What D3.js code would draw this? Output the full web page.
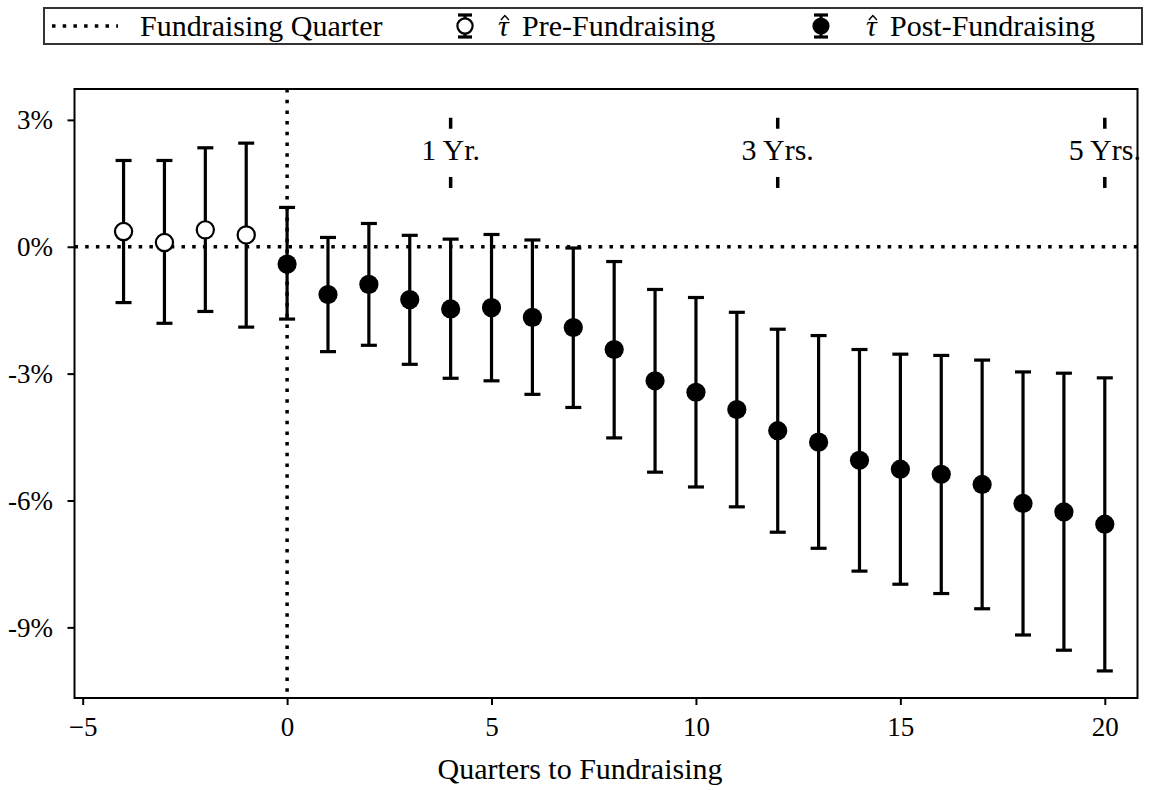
<!DOCTYPE html>
<html>
<head>
<meta charset="utf-8">
<script src="https://cdn.jsdelivr.net/npm/d3@7"></script>
<style>
  body { margin: 0; background: #fff; }
  svg { display: block; }
  text { font-family: "Liberation Serif", "DejaVu Serif", serif; fill: #000; }
</style>
</head>
<body>
<svg id="chart" width="1153" height="790"></svg>
<script>
// Event-study estimates (percent) by quarter relative to fundraising
const quarters = [-4, -3, -2, -1, 0, 1, 2, 3, 4, 5, 6, 7, 8, 9, 10, 11, 12, 13, 14, 15, 16, 17, 18, 19, 20];
const estimate = [0.36, 0.10, 0.40, 0.28, -0.41, -1.13, -0.89, -1.25, -1.47, -1.44, -1.67, -1.91, -2.43,
                  -3.17, -3.44, -3.85, -4.35, -4.62, -5.05, -5.26, -5.38, -5.62, -6.07, -6.27, -6.56];
const ciLower = [-1.32, -1.81, -1.53, -1.90, -1.71, -2.48, -2.33, -2.78, -3.11, -3.17, -3.49, -3.80, -4.52,
                 -5.33, -5.68, -6.15, -6.75, -7.13, -7.67, -7.98, -8.20, -8.56, -9.18, -9.54, -10.03];
const ciUpper = [2.04, 2.04, 2.34, 2.45, 0.93, 0.22, 0.55, 0.27, 0.18, 0.29, 0.16, -0.03, -0.35,
                 -1.01, -1.20, -1.55, -1.95, -2.10, -2.43, -2.54, -2.57, -2.68, -2.96, -2.99, -3.10];

const xTicks = [-5, 0, 5, 10, 15, 20];
const xTickLabels = ["\u22125", "0", "5", "10", "15", "20"];
const yTicks = [3, 0, -3, -6, -9];
const yTickLabels = ["3%", "0%", "-3%", "-6%", "-9%"];

const horizonQuarters = [4, 12, 20];
const horizonLabels = ["1 Yr.", "3 Yrs.", "5 Yrs."];

const legendLabels = ["Fundraising Quarter", "Pre-Fundraising", "Post-Fundraising"];

const rows = quarters.map((q, i) => ({ q, est: estimate[i], lo: ciLower[i], hi: ciUpper[i], pre: q < 0 }));

const svg = d3.select("#chart");
const FONT = 30;      // words
const NUM_FONT = 27;  // numeric tick labels

const x = d3.scaleLinear().domain([-5.2, 20.8]).range([74.5, 1137.5]);
const y = d3.scaleLinear().domain([-10.67, 3.73]).range([698, 89]);
const [x0, x1] = x.range();
const [yb, yt] = y.range();

const dotted = { stroke: "#000", "stroke-width": 3.5, "stroke-dasharray": "3.5,7.2" };
function applyAttrs(sel, attrs) { Object.entries(attrs).forEach(([k, v]) => sel.attr(k, v)); return sel; }

// reference lines at zero effect and at the fundraising quarter
applyAttrs(svg.append("line").attr("x1", x0).attr("x2", x1).attr("y1", y(0)).attr("y2", y(0)), dotted);
applyAttrs(svg.append("line").attr("x1", x(0)).attr("x2", x(0)).attr("y1", yt).attr("y2", yb), dotted);

// horizon markers: short dashes above and below a label
const hz = svg.append("g").selectAll("g").data(horizonQuarters).join("g");
hz.append("line").attr("x1", d => x(d)).attr("x2", d => x(d))
  .attr("y1", y(3.05)).attr("y2", y(2.79)).attr("stroke", "#000").attr("stroke-width", 3.5);
hz.append("line").attr("x1", d => x(d)).attr("x2", d => x(d))
  .attr("y1", y(1.65)).attr("y2", y(1.39)).attr("stroke", "#000").attr("stroke-width", 3.5);
hz.append("text").attr("x", d => x(d)).attr("y", y(2.05))
  .attr("text-anchor", "middle").attr("font-size", FONT)
  .text((d, i) => horizonLabels[i]);

// error bars with point estimates
const eb = svg.append("g").selectAll("g").data(rows).join("g");
eb.append("line").attr("x1", d => x(d.q)).attr("x2", d => x(d.q))
  .attr("y1", d => y(d.lo)).attr("y2", d => y(d.hi))
  .attr("stroke", "#000").attr("stroke-width", 3.2);
eb.append("line").attr("x1", d => x(d.q) - 8).attr("x2", d => x(d.q) + 8)
  .attr("y1", d => y(d.hi)).attr("y2", d => y(d.hi))
  .attr("stroke", "#000").attr("stroke-width", 3.2);
eb.append("line").attr("x1", d => x(d.q) - 8).attr("x2", d => x(d.q) + 8)
  .attr("y1", d => y(d.lo)).attr("y2", d => y(d.lo))
  .attr("stroke", "#000").attr("stroke-width", 3.2);
eb.append("circle").attr("cx", d => x(d.q)).attr("cy", d => y(d.est))
  .attr("r", d => d.pre ? 8.6 : 9.6)
  .attr("fill", d => d.pre ? "#fff" : "#000")
  .attr("stroke", "#000").attr("stroke-width", d => d.pre ? 2.2 : 0);

// frame
svg.append("rect").attr("x", x0).attr("y", yt).attr("width", x1 - x0).attr("height", yb - yt)
  .attr("fill", "none").attr("stroke", "#000").attr("stroke-width", 2);

// axes
const xAxis = svg.append("g").attr("transform", `translate(0,${yb})`)
  .call(d3.axisBottom(x).tickValues(xTicks).tickFormat((d, i) => xTickLabels[i]).tickSize(7).tickPadding(12));
const yAxis = svg.append("g").attr("transform", `translate(${x0},0)`)
  .call(d3.axisLeft(y).tickValues(yTicks).tickFormat((d, i) => yTickLabels[i]).tickSize(7).tickPadding(14.5));
[xAxis, yAxis].forEach(a => {
  a.select(".domain").remove();
  a.selectAll(".tick line").attr("stroke", "#000").attr("stroke-width", 2);
  a.selectAll(".tick text").attr("font-size", NUM_FONT).attr("font-family", null).attr("fill", "#000");
});

svg.append("text").attr("x", 580).attr("y", 779).attr("text-anchor", "middle")
  .attr("font-size", FONT).text("Quarters to Fundraising");

// legend
const lg = svg.append("g");
lg.append("rect").attr("x", 44).attr("y", 8).attr("width", 1098).attr("height", 36)
  .attr("fill", "#fff").attr("stroke", "#333").attr("stroke-width", 2);
applyAttrs(lg.append("line").attr("x1", 52).attr("x2", 118).attr("y1", 26).attr("y2", 26), dotted);
lg.append("text").attr("x", 140).attr("y", 36).attr("font-size", FONT).text(legendLabels[0]);

function legendMarker(cx, pre) {
  const g = lg.append("g");
  g.append("line").attr("x1", cx).attr("x2", cx).attr("y1", 15).attr("y2", 37).attr("stroke", "#000").attr("stroke-width", 3.2);
  g.append("line").attr("x1", cx - 7).attr("x2", cx + 7).attr("y1", 15).attr("y2", 15).attr("stroke", "#000").attr("stroke-width", 3.2);
  g.append("line").attr("x1", cx - 7).attr("x2", cx + 7).attr("y1", 37).attr("y2", 37).attr("stroke", "#000").attr("stroke-width", 3.2);
  g.append("circle").attr("cx", cx).attr("cy", 26).attr("r", pre ? 7.6 : 8.6)
    .attr("fill", pre ? "#fff" : "#000").attr("stroke", "#000").attr("stroke-width", pre ? 2.2 : 0);
}
// estimator symbol: italic tau with a circumflex accent, followed by the label
function legendText(tx, label) {
  const tau = lg.append("text").attr("x", tx).attr("y", 36).attr("font-size", FONT)
    .attr("font-style", "italic").text("\u03C4");
  const w = tau.node().getComputedTextLength();
  const hc = tx + w / 2 + 1.5;
  lg.append("path").attr("d", `M${hc - 4},${20} L${hc},${15.5} L${hc + 4},${20}`)
    .attr("fill", "none").attr("stroke", "#000").attr("stroke-width", 1.4);
  lg.append("text").attr("x", tx + 24).attr("y", 36).attr("font-size", FONT).text(label);
}
legendMarker(465, true);
legendText(498, legendLabels[1]);
legendMarker(821, false);
legendText(866, legendLabels[2]);
</script>
</body>
</html>
